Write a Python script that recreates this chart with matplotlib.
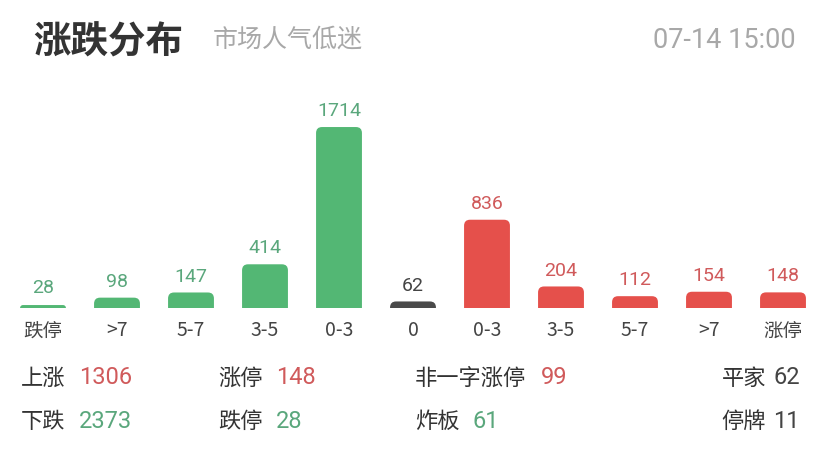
import matplotlib
matplotlib.use("Agg")
from matplotlib import pyplot as plt
from matplotlib.patches import FancyBboxPatch

plt.rcParams['font.family'] = ['Noto Sans CJK SC', 'DejaVu Sans']

# data
cats = ['跌停', '>7', '5-7', '3-5', '0-3', '0', '0-3', '3-5', '5-7', '>7', '涨停']
counts = [28, 98, 147, 414, 1714, 62, 836, 204, 112, 154, 148]
kinds = ['down'] * 5 + ['flat'] + ['up'] * 5

title = '涨跌分布'
subtitle = '市场人气低迷'
stamp = '07-14 15:00'

stat_names = [['上涨', '下跌'], ['涨停', '跌停'], ['非一字涨停', '炸板'], ['平家', '停牌']]
stat_vals = [[1306, 2373], [148, 28], [99, 61], [62, 11]]
stat_kind = [['up', 'down'], ['up', 'down'], ['up', 'down'], ['flat', 'flat']]

bar_col = {'down': '#53b774', 'up': '#e5504b', 'flat': '#4a4a4a'}
txt_col = {'down': '#5aa77c', 'up': '#d05a5b', 'flat': '#444444'}

W, H = 828, 449
fig = plt.figure(figsize=(W / 100, H / 100), dpi=100)
fig.patch.set_facecolor('white')

# bar axes: index i -> pixel 43 + 74*i, baseline at pixel 308
left_px, right_px = 6, 820
base_px, top_px = 308, 100
ax = fig.add_axes([left_px / W, 1 - base_px / H, (right_px - left_px) / W, (base_px - top_px) / H])
ymax = 1970
ax.set_xlim(-0.5, 10.5)
ax.set_ylim(0, ymax)
for s in ax.spines.values():
    s.set_visible(False)
ax.set_yticks([])

xs = list(range(len(cats)))
bars = ax.bar(xs, counts, width=0.62, color=[bar_col[k] for k in kinds])

ux = 11 / (right_px - left_px)       # data x per pixel
uy = ymax / (base_px - top_px)       # data y per pixel
for rect, k in zip(bars, kinds):
    x0, w, h = rect.get_x(), rect.get_width(), rect.get_height()
    r_px = min(6.0, max(h / uy, 1.5))
    rect.remove()
    p = FancyBboxPatch((x0, -r_px * uy), w, h + r_px * uy,
                       boxstyle='round,pad=0,rounding_size=%f' % (r_px * ux),
                       mutation_aspect=uy / ux, linewidth=0,
                       facecolor=bar_col[k], clip_on=True)
    ax.add_patch(p)

for x, v, k in zip(xs, counts, kinds):
    hv = max(v, 4 * uy)
    ax.annotate(str(v), (x, hv), xytext=(0, 5), textcoords='offset points',
                ha='center', va='bottom', fontsize=14, color=txt_col[k],
                family=['Roboto', 'DejaVu Sans'])

ax.set_xticks(xs)
ax.set_xticklabels(cats, fontsize=14, color='#444444')
ax.tick_params(axis='x', length=0, pad=9)

# header
fig.text(33 / W, 1 - 42 / H, title, fontsize=27, color='#333333',
         fontweight='bold', va='center', ha='left')
fig.text(213 / W, 1 - 40 / H, subtitle, fontsize=18, color='#a8a8a8',
         va='center', ha='left')
fig.text(796 / W, 1 - 40 / H, stamp, fontsize=19.5, color='#a8a8a8',
         va='center', ha='right', family=['Roboto', 'DejaVu Sans'])

# stats
col_x = [21, 218, 415]
row_y = [378, 421]
for c in range(3):
    for r in range(2):
        name = stat_names[c][r]
        fig.text(col_x[c] / W, 1 - row_y[r] / H, name, fontsize=16,
                 color='#333333', va='center', ha='left')
        nx = col_x[c] + len(name) * 22.5 + 13
        fig.text(nx / W, 1 - row_y[r] / H, str(stat_vals[c][r]), fontsize=17,
                 color=txt_col[stat_kind[c][r]], va='center', ha='left',
                 family=['Roboto', 'DejaVu Sans'])
for r in range(2):
    v = str(stat_vals[3][r])
    fig.text(800 / W, 1 - row_y[r] / H, v, fontsize=17, color='#444444',
             va='center', ha='right', family=['Roboto', 'DejaVu Sans'])
    fig.text((800 - 12 * len(v) - 10) / W, 1 - row_y[r] / H, stat_names[3][r],
             fontsize=16, color='#333333', va='center', ha='right')

fig.savefig('out.png', dpi=100, facecolor='white')
